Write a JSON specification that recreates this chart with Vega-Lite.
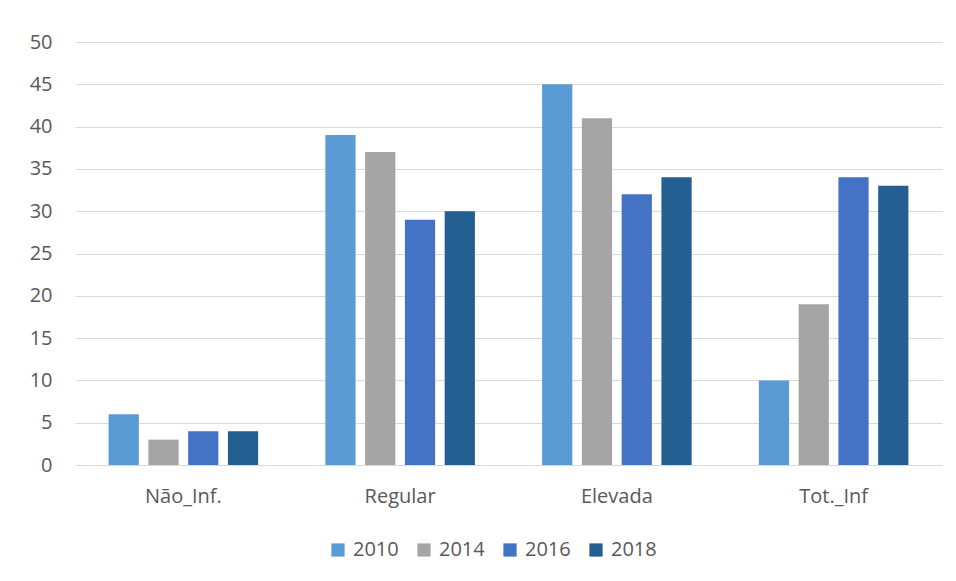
{
  "$schema": "https://vega.github.io/schema/vega-lite/v6.json",
  "autosize": "none",
  "width": 867,
  "height": 423,
  "padding": {"left": 75, "top": 42, "right": 14, "bottom": 116},
  "background": "white",
  "data": {
    "values": [
      {"cat": "Não_Inf.", "year": "2010", "value": 6},
      {"cat": "Não_Inf.", "year": "2014", "value": 3},
      {"cat": "Não_Inf.", "year": "2016", "value": 4},
      {"cat": "Não_Inf.", "year": "2018", "value": 4},
      {"cat": "Regular", "year": "2010", "value": 39},
      {"cat": "Regular", "year": "2014", "value": 37},
      {"cat": "Regular", "year": "2016", "value": 29},
      {"cat": "Regular", "year": "2018", "value": 30},
      {"cat": "Elevada", "year": "2010", "value": 45},
      {"cat": "Elevada", "year": "2014", "value": 41},
      {"cat": "Elevada", "year": "2016", "value": 32},
      {"cat": "Elevada", "year": "2018", "value": 34},
      {"cat": "Tot._Inf", "year": "2010", "value": 10},
      {"cat": "Tot._Inf", "year": "2014", "value": 19},
      {"cat": "Tot._Inf", "year": "2016", "value": 34},
      {"cat": "Tot._Inf", "year": "2018", "value": 33}
    ]
  },
  "mark": {"type": "bar"},
  "encoding": {
    "x": {
      "field": "cat", "type": "nominal", "sort": null,
      "scale": {"paddingInner": 0.31, "paddingOuter": 0.155},
      "axis": {"title": null, "labelAngle": 0, "ticks": false, "domain": true, "domainColor": "#d9d9d9", "labelPadding": 21, "labelFontSize": 20, "labelColor": "#595959", "labelFont": "Open Sans", "grid": false}
    },
    "xOffset": {"field": "year", "type": "nominal", "scale": {"paddingInner": 0.24, "paddingOuter": 0}},
    "y": {
      "field": "value", "type": "quantitative",
      "scale": {"domain": [0, 50], "nice": false},
      "axis": {"title": null, "values": [0,5,10,15,20,25,30,35,40,45,50], "ticks": false, "domain": false, "gridColor": "#d9d9d9", "gridWidth": 1, "labelPadding": 23, "labelFontSize": 20, "labelColor": "#595959", "labelFont": "Open Sans"}
    },
    "color": {
      "field": "year", "type": "nominal",
      "scale": {"domain": ["2010", "2014", "2016", "2018"], "range": ["#5B9BD5", "#A5A5A5", "#4472C4", "#255E91"]},
      "legend": {"title": null, "orient": "none", "direction": "horizontal", "legendX": 253, "legendY": 498, "symbolType": "square", "symbolSize": 175, "symbolStrokeWidth": 0, "symbolOpacity": 1, "labelFontSize": 20, "labelColor": "#595959", "labelFont": "Open Sans", "labelOffset": 5, "columnPadding": 15}
    }
  },
  "config": {"view": {"stroke": null}}
}
